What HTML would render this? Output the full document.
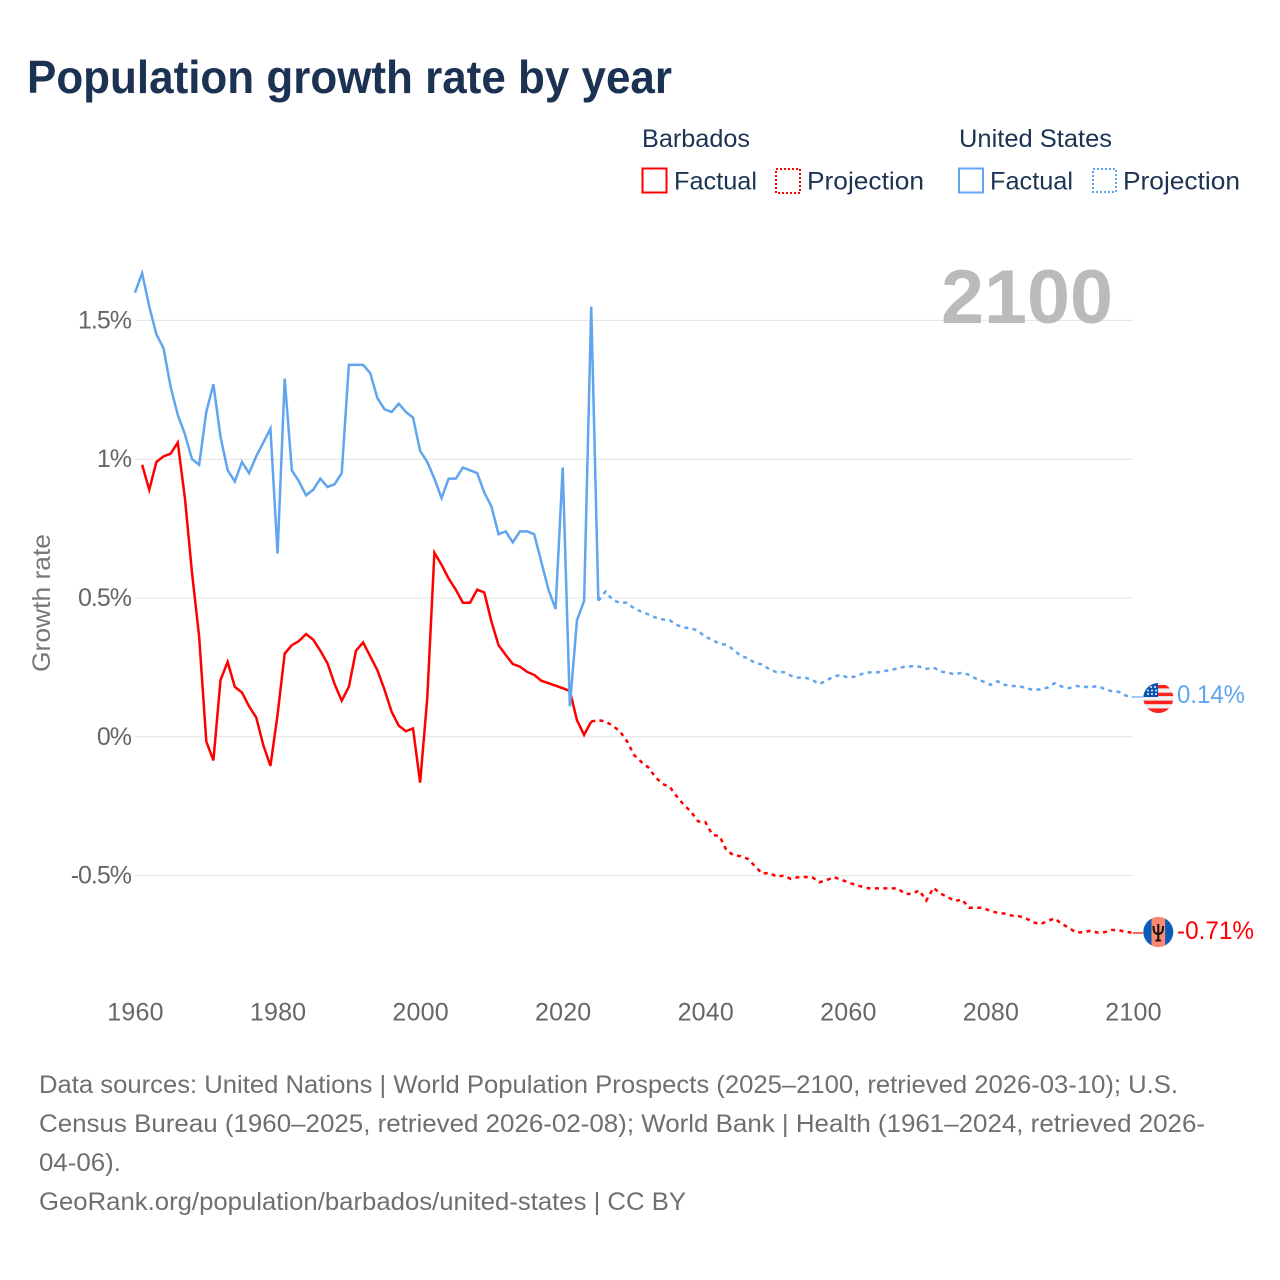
<!DOCTYPE html>
<html lang="en">
<head>
<meta charset="utf-8">
<title>Population growth rate by year</title>
<style>
html,body{margin:0;padding:0;background:#fff;width:1280px;height:1280px;overflow:hidden}
svg{display:block;font-family:"Liberation Sans",sans-serif}
.leg{font-size:25px;fill:#1c3353}
.foot{font-size:25px;fill:#6f6f6f}
.tick{font-size:25px;fill:#666}
</style>
</head>
<body>
<svg id="chart" xmlns="http://www.w3.org/2000/svg" width="1280" height="1280" viewBox="0 0 1280 1280">
  <defs>
    <clipPath id="usClip"><circle cx="1158.3" cy="698" r="15"/></clipPath>
    <clipPath id="bbClip"><circle cx="1158.3" cy="932" r="15"/></clipPath>
  </defs>

  <text x="27" y="93" font-size="46" font-weight="bold" fill="#1b3253" textLength="645" lengthAdjust="spacingAndGlyphs">Population growth rate by year</text>

  <g>
    <text class="leg" x="642" y="147" textLength="108" lengthAdjust="spacingAndGlyphs">Barbados</text>
    <rect x="642.5" y="168.5" width="24" height="24" fill="none" stroke="#ff0000" stroke-width="2"/>
    <text class="leg" x="674" y="189.5" textLength="83" lengthAdjust="spacingAndGlyphs">Factual</text>
    <rect x="776" y="169" width="24" height="24" fill="none" stroke="#ff0000" stroke-width="2" stroke-dasharray="2,2"/>
    <text class="leg" x="807" y="189.5" textLength="117" lengthAdjust="spacingAndGlyphs">Projection</text>
    <text class="leg" x="959" y="147" textLength="153" lengthAdjust="spacingAndGlyphs">United States</text>
    <rect x="959" y="168.5" width="24" height="24" fill="none" stroke="#60a5ee" stroke-width="2"/>
    <text class="leg" x="990" y="189.5" textLength="83" lengthAdjust="spacingAndGlyphs">Factual</text>
    <rect x="1093" y="169" width="23" height="23" fill="none" stroke="#60a5ee" stroke-width="2" stroke-dasharray="2,2"/>
    <text class="leg" x="1123" y="189.5" textLength="117" lengthAdjust="spacingAndGlyphs">Projection</text>
  </g>

  <g id="grid"></g>
  <text x="941" y="323" font-size="76" font-weight="bold" fill="#bbbbbb" textLength="172" lengthAdjust="spacingAndGlyphs">2100</text>
  <g id="yAxis"></g>
  <g id="xAxis"></g>
  <text transform="translate(50,672) rotate(-90)" font-size="25" fill="#777" textLength="138" lengthAdjust="spacingAndGlyphs">Growth rate</text>

  <g id="series"></g>

  <line x1="1133" x2="1143" y1="697" y2="697" stroke="#60a5ee" stroke-width="1.2"/>
  <line x1="1133" x2="1143" y1="933" y2="933" stroke="#ff0000" stroke-width="1.2"/>

  <g clip-path="url(#usClip)">
    <rect x="1143" y="683" width="31" height="31" fill="#f0f0f0"/>
    <rect x="1143" y="685" width="31" height="3.4" fill="#ff2020"/>
    <rect x="1143" y="692.7" width="31" height="3.4" fill="#ff2020"/>
    <rect x="1143" y="700.6" width="31" height="3.6" fill="#ff2020"/>
    <rect x="1143" y="708.4" width="31" height="5" fill="#ff2020"/>
    <rect x="1143" y="683" width="15" height="14" fill="#0a52b4"/>
    <g fill="#f4f4f4">
      <circle cx="1151" cy="687" r="1"/><circle cx="1155" cy="687" r="1"/>
      <circle cx="1148" cy="690.5" r="1"/><circle cx="1152" cy="690.5" r="1"/><circle cx="1156" cy="690.5" r="1"/>
      <circle cx="1148" cy="694" r="1"/><circle cx="1152" cy="694" r="1"/><circle cx="1156" cy="694" r="1"/>
    </g>
  </g>
  <text x="1177" y="703" font-size="25" fill="#60a5ee" textLength="68" lengthAdjust="spacingAndGlyphs">0.14%</text>

  <g clip-path="url(#bbClip)">
    <rect x="1143" y="917" width="31" height="31" fill="#0a5cb8"/>
    <rect x="1151.5" y="917" width="13.6" height="31" fill="#fb8a70"/>
    <path d="M1153.5 926 C1153.5 932 1155 934 1158.3 934 C1161.6 934 1163 932 1163 926 M1158.3 924 V941 M1155.5 940.5 H1161" fill="none" stroke="#111" stroke-width="2"/>
  </g>
  <text x="1177" y="939" font-size="25" fill="#ff0000" textLength="77" lengthAdjust="spacingAndGlyphs">-0.71%</text>

  <g>
    <text class="foot" x="39" y="1093" textLength="1139" lengthAdjust="spacingAndGlyphs">Data sources: United Nations | World Population Prospects (2025–2100, retrieved 2026-03-10); U.S.</text>
    <text class="foot" x="39" y="1132" textLength="1166" lengthAdjust="spacingAndGlyphs">Census Bureau (1960–2025, retrieved 2026-02-08); World Bank | Health (1961–2024, retrieved 2026-</text>
    <text class="foot" x="39" y="1171" textLength="82" lengthAdjust="spacingAndGlyphs">04-06).</text>
    <text class="foot" x="39" y="1210" textLength="647" lengthAdjust="spacingAndGlyphs">GeoRank.org/population/barbados/united-states | CC BY</text>
  </g>
</svg>

<script>
const xTickYears = [1960, 1980, 2000, 2020, 2040, 2060, 2080, 2100];
const yTickValues = [-0.5, 0, 0.5, 1, 1.5];
const yTickLabels = ['-0.5%', '0%', '0.5%', '1%', '1.5%'];

const usFactualStart = 1960;
const usFactual = [1.60,1.67,1.55,1.45,1.40,1.26,1.16,1.09,1.00,0.98,1.17,1.27,1.08,0.96,0.92,0.99,0.95,1.01,1.06,1.11,0.66,1.29,0.96,0.92,0.87,0.89,0.93,0.90,0.91,0.95,1.34,1.34,1.34,1.31,1.22,1.18,1.17,1.20,1.17,1.15,1.03,0.99,0.93,0.86,0.93,0.93,0.97,0.96,0.95,0.88,0.83,0.73,0.74,0.70,0.74,0.74,0.73,0.63,0.53,0.46,0.97,0.11,0.42,0.49,1.55,0.49];

const usProjectionStart = 2025;
const usProjection = [0.49,0.523,0.493,0.483,0.483,0.463,0.451,0.441,0.43,0.423,0.42,0.403,0.393,0.392,0.381,0.36,0.349,0.335,0.331,0.313,0.291,0.283,0.265,0.261,0.243,0.233,0.233,0.22,0.213,0.213,0.205,0.19,0.203,0.217,0.223,0.213,0.217,0.227,0.232,0.232,0.236,0.241,0.246,0.253,0.254,0.253,0.245,0.25,0.235,0.231,0.225,0.231,0.223,0.209,0.199,0.187,0.2,0.187,0.183,0.183,0.175,0.169,0.171,0.177,0.193,0.181,0.175,0.183,0.181,0.178,0.183,0.173,0.164,0.162,0.148,0.144];

const barbadosFactualStart = 1961;
const barbadosFactual = [0.98,0.89,0.99,1.01,1.02,1.06,0.86,0.59,0.36,-0.017,-0.085,0.205,0.27,0.18,0.16,0.11,0.07,-0.03,-0.105,0.08,0.30,0.33,0.345,0.37,0.35,0.31,0.265,0.19,0.13,0.18,0.31,0.34,0.29,0.24,0.17,0.09,0.04,0.02,0.03,-0.165,0.14,0.663,0.62,0.57,0.53,0.483,0.483,0.53,0.52,0.415,0.33,0.295,0.262,0.253,0.234,0.223,0.202,0.193,0.184,0.175,0.165,0.06,0.007,0.055];

const barbadosProjectionStart = 2024;
const barbadosProjection = [0.055,0.06,0.055,0.04,0.02,-0.015,-0.065,-0.09,-0.11,-0.145,-0.17,-0.18,-0.215,-0.245,-0.27,-0.305,-0.307,-0.353,-0.358,-0.41,-0.427,-0.43,-0.44,-0.467,-0.493,-0.49,-0.504,-0.5,-0.512,-0.506,-0.505,-0.506,-0.524,-0.517,-0.505,-0.514,-0.524,-0.533,-0.54,-0.546,-0.546,-0.546,-0.546,-0.546,-0.566,-0.566,-0.553,-0.59,-0.544,-0.565,-0.577,-0.592,-0.586,-0.616,-0.616,-0.616,-0.628,-0.634,-0.637,-0.644,-0.646,-0.654,-0.668,-0.675,-0.664,-0.654,-0.674,-0.688,-0.705,-0.704,-0.699,-0.705,-0.704,-0.696,-0.696,-0.704,-0.705];

const NS = 'http://www.w3.org/2000/svg';
const x = function (year) { return 135 + (year - 1960) * (998 / 140); };
const y = function (value) { return 736.8 - value * 277.6; };

const grid = document.getElementById('grid');
const yAxis = document.getElementById('yAxis');
const xAxis = document.getElementById('xAxis');
const series = document.getElementById('series');

yTickValues.forEach(function (v, i) {
  const line = document.createElementNS(NS, 'line');
  
  
  line.setAttribute('x1', x(1960));
  line.setAttribute('x2', x(2100));
  line.setAttribute('y1', y(v));
  line.setAttribute('y2', y(v));
  line.setAttribute('stroke', '#e2e2e2');
  line.setAttribute('stroke-width', '1');
  grid.appendChild(line);

  const label = document.createElementNS(NS, 'text');
  
  
  label.setAttribute('class', 'tick');
  label.setAttribute('x', 131);
  label.setAttribute('y', y(v) + 8);
  label.setAttribute('text-anchor', 'end');
  label.setAttribute('letter-spacing', '-1');
  label.textContent = yTickLabels[i];
  yAxis.appendChild(label);
});

xTickYears.forEach(function (year) {
  const label = document.createElementNS(NS, 'text');
  
  
  label.setAttribute('class', 'tick');
  label.setAttribute('x', x(year) + 0.5);
  label.setAttribute('y', 1020.5);
  label.setAttribute('text-anchor', 'middle');
  label.setAttribute('font-size', '25.5');
  label.setAttribute('letter-spacing', '0.2');
  label.textContent = year;
  xAxis.appendChild(label);
});

function drawLine(values, startYear, color, dash, name) {
  const pts = values.map(function (v, i) {
    return x(startYear + i).toFixed(2) + ',' + y(v).toFixed(2);
  }).join(' ');
  const line = document.createElementNS(NS, 'polyline');
  
  
  line.setAttribute('points', pts);
  line.setAttribute('fill', 'none');
  line.setAttribute('stroke', color);
  line.setAttribute('stroke-width', '2.5');
  line.setAttribute('stroke-linejoin', 'miter');
  if (dash) line.setAttribute('stroke-dasharray', dash);
  series.appendChild(line);
}

drawLine(barbadosFactual, barbadosFactualStart, '#ff0000', null, 'barbados-factual-line');
drawLine(barbadosProjection, barbadosProjectionStart, '#ff0000', '4,4.4', 'barbados-projection-line');
drawLine(usFactual, usFactualStart, '#60a5ee', null, 'us-factual-line');
drawLine(usProjection, usProjectionStart, '#60a5ee', '4,4.4', 'us-projection-line');
</script>
</body>
</html>
